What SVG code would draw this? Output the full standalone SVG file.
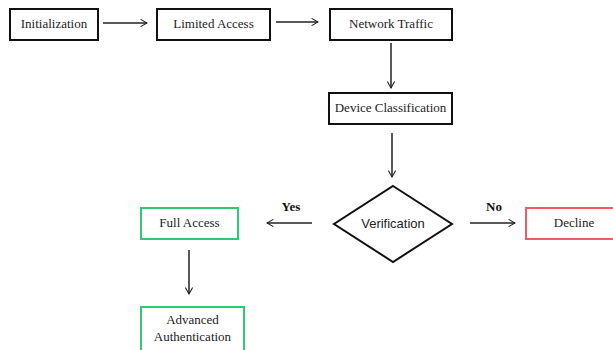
<svg xmlns="http://www.w3.org/2000/svg" width="613" height="350" viewBox="0 0 613 350">
<style>
.box{fill:#fff;stroke:#111;stroke-width:2}
.green{fill:#fff;stroke:#2ecc71;stroke-width:2}
.red{fill:#fff;stroke:#f25c5c;stroke-width:2}
.t{font-family:"Liberation Serif","Times New Roman",serif;font-size:13px;fill:#222;text-anchor:middle;dominant-baseline:central}
.s{font-family:"Liberation Sans",Arial,sans-serif;font-size:13px;fill:#222;text-anchor:middle;dominant-baseline:central}
.lbl{font-family:"Liberation Serif","Times New Roman",serif;font-size:13px;font-weight:bold;fill:#111;text-anchor:middle}
.c{stroke:#222;stroke-width:1.5;fill:none;marker-end:url(#ah)}
</style>
<defs>
<marker id="ah" viewBox="0 0 10 10" refX="9" refY="5" markerWidth="8" markerHeight="8" markerUnits="userSpaceOnUse" orient="auto">
<path d="M1,0.5 L9,5 L1,9.5" fill="none" stroke="#222" stroke-width="1.3"/>
</marker>
</defs>
<rect width="613" height="350" fill="#fff"/>
<g id="connectors">
<line class="c" x1="103" y1="23" x2="147" y2="23"/>
<line class="c" x1="276" y1="22" x2="318" y2="22"/>
<line class="c" x1="391" y1="43" x2="391" y2="88"/>
<line class="c" x1="392" y1="133" x2="392" y2="177"/>
<line class="c" x1="312" y1="223" x2="267" y2="223"/>
<line class="c" x1="470" y1="223" x2="515" y2="223"/>
<line class="c" x1="189" y1="250" x2="189" y2="294"/>
<text class="lbl" x="291" y="211">Yes</text>
<text class="lbl" x="494" y="211">No</text>
</g>
<g id="initialization">
<rect class="box" x="10" y="9" width="88" height="31"/>
<text class="t" x="54" y="23">Initialization</text>
</g>
<g id="limited-access">
<rect class="box" x="157" y="9" width="113" height="31"/>
<text class="t" x="213.5" y="23">Limited Access</text>
</g>
<g id="network-traffic">
<rect class="box" x="330" y="9" width="122" height="31"/>
<text class="t" x="391" y="23">Network Traffic</text>
</g>
<g id="device-classification">
<rect class="box" x="329" y="93" width="123" height="31"/>
<text class="t" x="390.5" y="107">Device Classification</text>
</g>
<g id="verification">
<polygon class="box" points="393,186 452,224 393,262 334,224"/>
<text class="s" x="393" y="223">Verification</text>
</g>
<g id="full-access">
<rect class="green" x="141" y="208" width="97" height="31"/>
<text class="t" x="189.5" y="222">Full Access</text>
</g>
<g id="decline">
<rect class="red" x="526" y="208" width="96" height="31"/>
<text class="t" x="574" y="222">Decline</text>
</g>
<g id="advanced-authentication">
<rect class="green" x="141" y="307" width="103" height="50"/>
<text class="t" x="192.5" y="319">Advanced</text>
<text class="t" x="192.5" y="336">Authentication</text>
</g>
</svg>
